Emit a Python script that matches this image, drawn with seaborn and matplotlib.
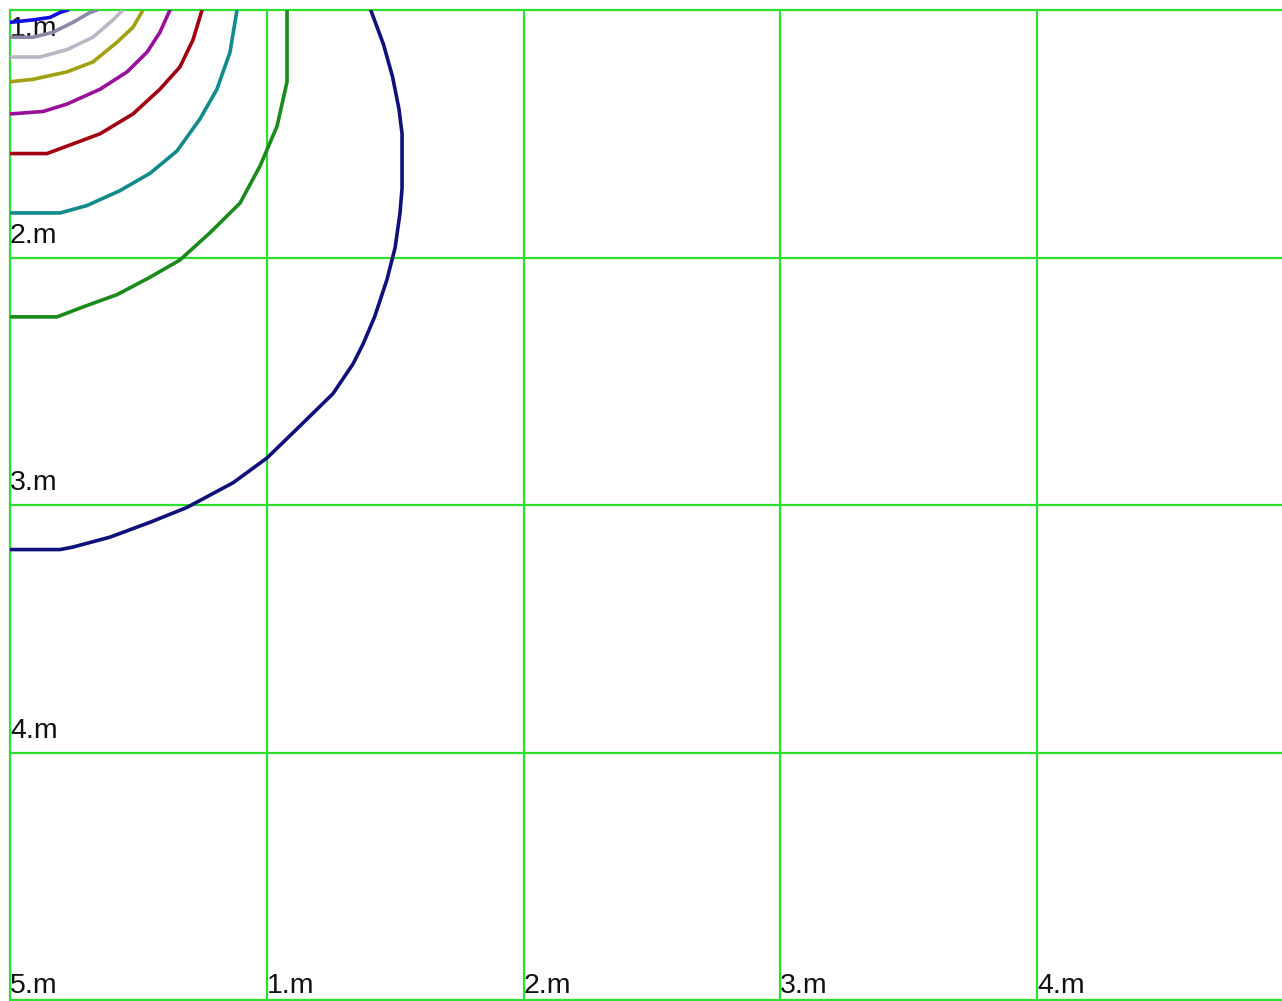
import matplotlib
matplotlib.use("Agg")
import matplotlib.pyplot as plt
import seaborn as sns
import pandas as pd

# grid ticks (metres)
x_ticks = [0, 1, 2, 3, 4]
y_ticks = [1, 2, 3, 4, 5]
x_labels = ["5.m", "1.m", "2.m", "3.m", "4.m"]
y_labels = ["1.m", "2.m", "3.m", "4.m", "5.m"]

# contour polylines (x, y in metres), inner to outer
blue_x = [0, 0.090, 0.156, 0.195, 0.226]
blue_y = [1.05, 1.04, 1.03, 1.01, 1.00]
slate_x = [0, 0.090, 0.167, 0.245, 0.312, 0.339]
slate_y = [1.11, 1.11, 1.09, 1.05, 1.01, 1.00]
silver_x = [0, 0.117, 0.222, 0.323, 0.401, 0.440]
silver_y = [1.19, 1.19, 1.16, 1.11, 1.04, 1.00]
olive_x = [0, 0.090, 0.222, 0.323, 0.417, 0.479, 0.518]
olive_y = [1.29, 1.28, 1.25, 1.21, 1.13, 1.07, 1.00]
purple_x = [0, 0.129, 0.222, 0.351, 0.456, 0.534, 0.584, 0.623]
purple_y = [1.42, 1.41, 1.38, 1.32, 1.25, 1.17, 1.09, 1.00]
red_x = [0, 0.144, 0.222, 0.351, 0.479, 0.584, 0.662, 0.713, 0.748]
red_y = [1.58, 1.58, 1.55, 1.50, 1.42, 1.32, 1.23, 1.12, 1.00]
teal_x = [0, 0.195, 0.300, 0.428, 0.545, 0.650, 0.740, 0.806, 0.857, 0.884]
teal_y = [1.82, 1.82, 1.79, 1.73, 1.66, 1.57, 1.44, 1.32, 1.17, 1.00]
green_x = [0, 0.183, 0.284, 0.417, 0.545, 0.662, 0.779, 0.896, 0.974, 1.040, 1.079, 1.079]
green_y = [2.24, 2.24, 2.20, 2.15, 2.08, 2.01, 1.90, 1.78, 1.63, 1.47, 1.29, 1.00]
navy_x = [0, 0.195, 0.245, 0.389, 0.545, 0.689, 0.869, 1.001, 1.130, 1.258, 1.336,
          1.375, 1.420, 1.468, 1.500, 1.519, 1.527, 1.527, 1.515, 1.490, 1.455, 1.405]
navy_y = [3.18, 3.18, 3.17, 3.13, 3.07, 3.01, 2.91, 2.81, 2.68, 2.55, 2.43,
          2.35, 2.24, 2.09, 1.96, 1.82, 1.72, 1.50, 1.40, 1.27, 1.14, 1.00]

contours = [
    (blue_x, blue_y, "#1010e0"),
    (slate_x, slate_y, "#8a8aa8"),
    (silver_x, silver_y, "#b8b8c4"),
    (olive_x, olive_y, "#a0a010"),
    (purple_x, purple_y, "#9a109a"),
    (red_x, red_y, "#a00010"),
    (teal_x, teal_y, "#108a8a"),
    (green_x, green_y, "#1a8a1a"),
    (navy_x, navy_y, "#10107a"),
]

sns.set_style("white")
plt.rcParams["font.family"] = ["Liberation Sans", "DejaVu Sans"]

fig = plt.figure(figsize=(12.82, 10.01), dpi=100)
ax = fig.add_axes([10 / 1282, 1 / 1001, 1272 / 1282, 990 / 1001])
ax.set_xlim(0, 1272 / 256.75)
ax.set_ylim(5, 1)

grid_col = "#2ee02e"
for xv in x_ticks:
    ax.axvline(xv, color=grid_col, lw=1.6, clip_on=False, zorder=1)
for yv in y_ticks:
    ax.axhline(yv, color=grid_col, lw=1.6, clip_on=False, zorder=1)

for cx, cy, col in contours:
    df = pd.DataFrame({"x": cx, "y": cy})
    sns.lineplot(data=df, x="x", y="y", sort=False, estimator=None,
                 color=col, lw=2.6, ax=ax, zorder=3)

ax.axis("off")

# y labels sit just above each horizontal line, x labels at the bottom
fs = 20.5
for yv, lab in zip(y_ticks, y_labels):
    if yv == 1:
        ax.text(0.0, 1.025, lab, fontsize=fs, va="top", ha="left", color="#111111", zorder=2)
    elif yv == 5:
        ax.text(0.0, 4.995, lab, fontsize=fs, va="bottom", ha="left", color="#111111", zorder=2)
    else:
        ax.text(0.0, yv - 0.035, lab, fontsize=fs, va="bottom", ha="left", color="#111111", zorder=2)
for xv, lab in zip(x_ticks[1:], x_labels[1:]):
    ax.text(xv, 4.995, lab, fontsize=fs, va="bottom", ha="left", color="#111111", zorder=2)

fig.savefig("out.png", dpi=100, facecolor="white")
